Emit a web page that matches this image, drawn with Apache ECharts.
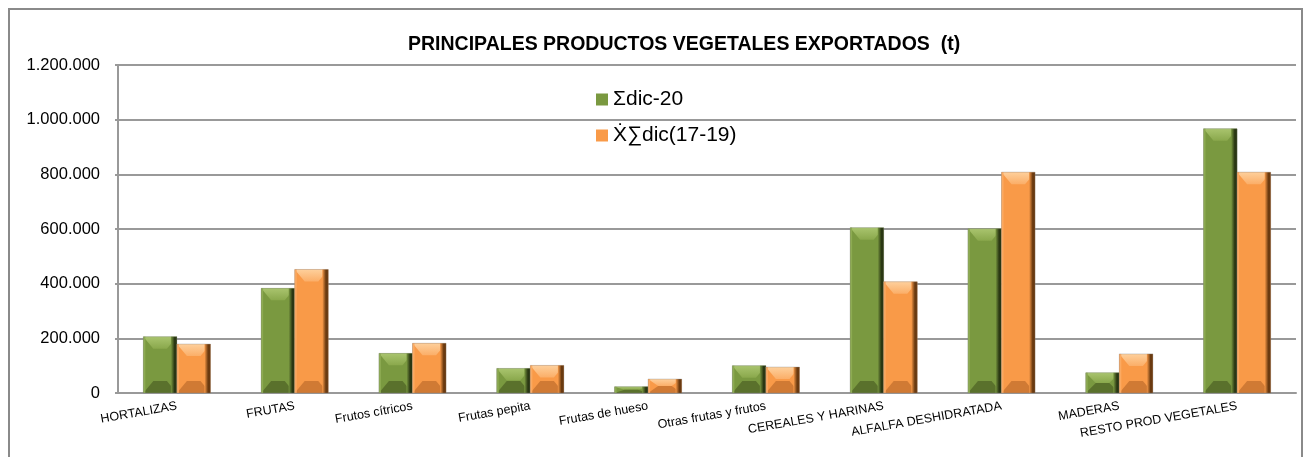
<!DOCTYPE html>
<html>
<head>
<meta charset="utf-8">
<script src="https://cdn.jsdelivr.net/npm/echarts@6/dist/echarts.min.js"></script>
<style>
  html, body { margin: 0; padding: 0; background: #fff; }
  #chart { width: 1308px; height: 457px; }
</style>
</head>
<body>
<div id="chart"></div>
<script>
// categorias y valores (t)
var categorias = ['HORTALIZAS', 'FRUTAS', 'Frutos cítricos', 'Frutas pepita', 'Frutas de hueso',
  'Otras frutas y frutos', 'CEREALES Y HARINAS', 'ALFALFA DESHIDRATADA', 'MADERAS', 'RESTO PROD VEGETALES'];
var dic20 = [206000, 383000, 145000, 90000, 23000, 100000, 605000, 601000, 74000, 967000];
var media1719 = [179000, 452000, 182000, 101000, 51000, 95000, 407000, 808000, 143000, 808000];
var nombreSerie1 = 'Σdic-20';
var nombreSerie2 = 'Ẋ∑dic(17-19)';

var verde = { cara: '#7a9940', alto: '#a9c46e', alto2: '#8aa84c', bajo: '#5a712c', izq: '#8dab52', der: '#2a3713' };
var naranja = { cara: '#f99a48', alto: '#fed09c', alto2: '#fbae68', bajo: '#d07a34', izq: '#fbaa62', der: '#6a3a10' };

function fmtMiles(v) {
  return String(v).replace(/\B(?=(\d{3})+(?!\d))/g, '.');
}

// barra con bisel tipo Excel, lado: -1 izquierda, 0 derecha
function barraBisel(pal, lado) {
  return function (params, api) {
    var cat = api.value(0);
    var base = api.coord([cat, 0]);
    var top = api.coord([cat, api.value(1)]);
    var banda = api.size([1, 0])[0];
    var bw = banda * 0.57 / 2;
    var x0 = base[0] + (lado < 0 ? -bw : 0);
    var x1 = x0 + bw;
    var yT = top[1], yB = base[1];
    var h = yB - yT;
    var dy = Math.min(12, h / 2);
    var dx = Math.min(10, bw / 2);
    function poly(pts, fill) {
      return { type: 'polygon', shape: { points: pts }, style: { fill: fill }, silent: true };
    }
    return {
      type: 'group',
      children: [
        { type: 'rect', shape: { x: x0, y: yT, width: bw, height: h }, style: { fill: pal.cara } },
        poly([[x0, yT], [x1, yT], [x1 - dx, yT + dy], [x0 + dx, yT + dy]], {
          type: 'linear', x: 0, y: 0, x2: 0, y2: 1,
          colorStops: [{ offset: 0, color: pal.alto }, { offset: 1, color: pal.alto2 }]
        }),
        poly([[x0, yB], [x1, yB], [x1 - dx, yB - dy], [x0 + dx, yB - dy]], pal.bajo),
        { type: 'rect', shape: { x: x0, y: yT, width: 2, height: h }, style: { fill: pal.izq }, silent: true },
        { type: 'rect', shape: { x: x1 - 6, y: yT, width: 6, height: h }, silent: true,
          style: { fill: {
            type: 'linear', x: 0, y: 0, x2: 1, y2: 0,
            colorStops: [{ offset: 0, color: pal.cara }, { offset: 0.6, color: pal.der }, { offset: 1, color: pal.der }]
          } } },
        { type: 'rect', shape: { x: x0, y: yT, width: bw, height: h },
          style: { fill: null, stroke: 'rgba(130,130,130,0.4)', lineWidth: 0.8 }, silent: true }
      ]
    };
  };
}

var myChart = echarts.init(document.getElementById('chart'));
var option = {
  animation: false,
  title: {
    text: 'PRINCIPALES PRODUCTOS VEGETALES EXPORTADOS  (t)',
    left: 403,
    top: 30,
    textStyle: { fontFamily: 'Liberation Sans', fontSize: 19.5, fontWeight: 'bold', color: '#000' }
  },
  legend: {
    orient: 'vertical',
    left: 596,
    top: 89,
    padding: 0,
    itemWidth: 12,
    itemHeight: 12,
    itemGap: 15,
    icon: 'rect',
    textStyle: { fontFamily: 'Liberation Sans', fontSize: 21, color: '#000' },
    data: [nombreSerie1, nombreSerie2]
  },
  grid: { left: 118, right: 12, top: 65, bottom: 64 },
  xAxis: {
    type: 'category',
    data: categorias,
    axisLine: { lineStyle: { color: '#999', width: 2 } },
    axisTick: { show: false },
    axisLabel: {
      interval: 0,
      rotate: 10,
      margin: 13,
      fontFamily: 'Liberation Sans',
      fontSize: 12.5,
      color: '#000'
    }
  },
  yAxis: {
    type: 'value',
    min: 0,
    max: 1200000,
    interval: 200000,
    axisLine: { show: true, lineStyle: { color: '#999', width: 2 } },
    axisTick: { show: true, length: 3, lineStyle: { color: '#999', width: 2 } },
    splitLine: { lineStyle: { color: '#999', width: 2 } },
    axisLabel: {
      margin: 18,
      fontFamily: 'Liberation Sans',
      fontSize: 16.5,
      color: '#000',
      formatter: fmtMiles
    }
  },
  series: [
    {
      name: nombreSerie1,
      type: 'custom',
      renderItem: barraBisel(verde, -1),
      itemStyle: { color: verde.cara },
      encode: { x: 0, y: 1 },
      data: dic20.map(function (v, i) { return [i, v]; }),
      z: 3
    },
    {
      name: nombreSerie2,
      type: 'custom',
      renderItem: barraBisel(naranja, 0),
      itemStyle: { color: naranja.cara },
      encode: { x: 0, y: 1 },
      data: media1719.map(function (v, i) { return [i, v]; }),
      z: 3
    }
  ],
  graphic: [{
    type: 'rect',
    shape: { x: 9, y: 9, width: 1293, height: 470 },
    style: { fill: null, stroke: '#8a8a8a', lineWidth: 2 },
    silent: true,
    z: -1
  }]
};
myChart.setOption(option);
</script>
</body>
</html>
